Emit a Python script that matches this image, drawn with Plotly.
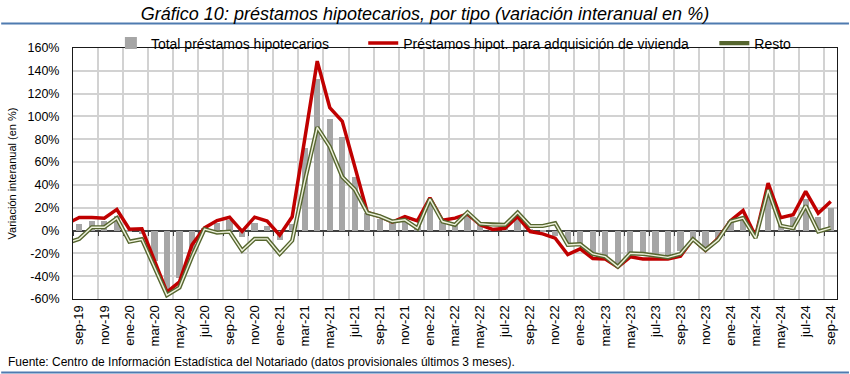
import plotly.graph_objects as go

# month labels (first one, ago-19, only feeds the clipped line segment at the left edge)
months = ["ago-19", "sep-19", "oct-19", "nov-19", "dic-19", "ene-20", "feb-20", "mar-20", "abr-20",
          "may-20", "jun-20", "jul-20", "ago-20", "sep-20", "oct-20", "nov-20", "dic-20", "ene-21",
          "feb-21", "mar-21", "abr-21", "may-21", "jun-21", "jul-21", "ago-21", "sep-21", "oct-21",
          "nov-21", "dic-21", "ene-22", "feb-22", "mar-22", "abr-22", "may-22", "jun-22", "jul-22",
          "ago-22", "sep-22", "oct-22", "nov-22", "dic-22", "ene-23", "feb-23", "mar-23", "abr-23",
          "may-23", "jun-23", "jul-23", "ago-23", "sep-23", "oct-23", "nov-23", "dic-23", "ene-24",
          "feb-24", "mar-24", "abr-24", "may-24", "jun-24", "jul-24", "ago-24", "sep-24"]

total = [None, 6, 8.8, 8, 13, -1.5, -3, -27, -56, -42, -18, 2, 6.5, 9, -5.9, 6.5, 3.8, -8.5, 6,
         72, 133, 98, 82, 47, 15, 10, 7, 9, 4, 27, 8, 7, 13, 5, 2, 3, 13.8, 1.2, -1, -4.7,
         -12, -12.6, -20.5, -22, -29, -20, -21, -21.5, -22, -18, -8, -16, -7.6, 8.5, 10.5, -5,
         36, 5, 12, 28, 11.5, 20]

vivienda = [6, 11.4, 11.4, 10.8, 18.5, 1.2, 1.5, -27, -54, -45, -12.6, 2.3, 8.8, 11.7, -0.8, 11.7,
            8.3, -4.1, 12, 80, 148.5, 107.8, 95.7, 56, 15.8, 12.3, 7.5, 12.3, 8.5, 28.7, 9, 10.9,
            14.5, 5, 1, 2, 12.3, -0.9, -2.9, -6.7, -21, -16, -24.5, -25, -32, -23, -25, -25, -25,
            -22.5, -7.6, -17.3, -7, 8.7, 17.5, -5, 41.6, 11.2, 13.8, 34.3, 15.2, 25.5]

resto = [-11, -7.3, 2.9, 2.9, 10.9, -9.7, -7.6, -32, -56.6, -49.9, -22.9, 1.2, -1.8, -1, -17.6,
         -7.3, -7.3, -20.5, -8.8, 43, 90.5, 73.5, 47, 36, 15.5, 12.5, 7.9, 9.4, 2, 27.6, 7.9, 5,
         16, 5.9, 5, 5, 15.8, 4, 4, 6.4, -12.6, -12, -20.5, -22.9, -31.7, -20, -20.5, -22, -23.5,
         -20.5, -7.6, -17, -8.2, 8, 11, -6.5, 35.5, 4.2, 2, 21.7, -0.9, 2.3]

y_ticks = [-60, -40, -20, 0, 20, 40, 60, 80, 100, 120, 140, 160]

xi = list(range(len(months)))
label_idx = xi[1::2]
label_txt = months[1::2]

FONT = "Liberation Sans, Arial, sans-serif"

fig = go.Figure()
fig.add_trace(go.Bar(x=xi, y=total, name="Total préstamos hipotecarios",
                     marker=dict(color="#a6a6a6", line=dict(width=0)), width=0.5,
                     legend="legend"))
fig.add_trace(go.Scatter(x=xi, y=vivienda, mode="lines",
                         name="Préstamos hipot. para adquisición de vivienda",
                         line=dict(color="#c00000", width=3.5), legend="legend2"))
fig.add_trace(go.Scatter(x=xi, y=resto, mode="lines", name="Resto",
                         line=dict(color="#56662f", width=4.2), legend="legend3",
                         legendgroup="resto"))
fig.add_trace(go.Scatter(x=xi, y=resto, mode="lines", name="Resto",
                         line=dict(color="#eef2dc", width=1.4), showlegend=False,
                         legendgroup="resto", hoverinfo="skip"))
# helper trace so the zero-line axis (ticks + vertical grid) is drawn
fig.add_trace(go.Scatter(x=xi, y=[0] * len(xi), mode="lines", xaxis="x2",
                         line=dict(width=0, color="rgba(0,0,0,0)"), showlegend=False,
                         hoverinfo="skip"))

leg_common = dict(orientation="h", yanchor="middle", y=1.018, xanchor="left",
                  bgcolor="rgba(0,0,0,0)", font=dict(family=FONT, size=14, color="#000"),
                  borderwidth=0, itemwidth=30)

fig.update_layout(
    width=850, height=374,
    margin=dict(l=72, r=12, t=48, b=75),
    paper_bgcolor="white", plot_bgcolor="white",
    bargap=0,
    showlegend=True,
    legend=dict(leg_common, x=(110 - 72) / 766),
    legend2=dict(leg_common, x=(363 - 72) / 766),
    legend3=dict(leg_common, x=(715 - 72) / 766),
    xaxis=dict(range=[0.5, 61.5], tickmode="array", tickvals=label_idx, ticktext=label_txt,
               tickangle=-90, showgrid=False, zeroline=False, ticks="",
               showline=True, linecolor="#1a1a1a", linewidth=1, mirror=True,
               tickfont=dict(family=FONT, size=13, color="#000")),
    xaxis2=dict(range=[0.5, 61.5], overlaying="x", anchor="free", position=60 / 220,
                tickmode="linear", tick0=0.5, dtick=2, showticklabels=False,
                ticks="outside", ticklen=5, tickwidth=1.2, tickcolor="#404040",
                showline=True, linecolor="#404040", linewidth=1.5,
                showgrid=True, gridcolor="#d2d2d2", gridwidth=1.5, zeroline=False,
                layer="below traces"),
    yaxis=dict(range=[-60, 160], tickmode="array", tickvals=y_ticks,
               ticktext=[f"{v}%" for v in y_ticks], showgrid=True, gridcolor="#d2d2d2",
               gridwidth=1.5, zeroline=False, showline=True, linecolor="#1a1a1a",
               linewidth=1, mirror=True, ticks="outside", ticklen=10,
               tickcolor="rgba(0,0,0,0)",
               tickfont=dict(family=FONT, size=12.5, color="#000"),
               title=dict(text="Variación interanual (en %)", standoff=8,
                          font=dict(family=FONT, size=11, color="#000"))),
    title=dict(text="<i>Gráfico 10: préstamos hipotecarios, por tipo (variación interanual en %)</i>",
               x=0.5, xanchor="center", y=1 - 14 / 374, yanchor="middle",
               font=dict(family=FONT, size=18, color="#000")),
    shapes=[
        dict(type="line", xref="paper", yref="paper", x0=-72 / 766, x1=(850 - 72) / 766,
             y0=1 + 24.5 / 251, y1=1 + 24.5 / 251, line=dict(color="#4f7bb0", width=2)),
        dict(type="line", xref="paper", yref="paper", x0=-72 / 766, x1=(850 - 72) / 766,
             y0=-(372.5 - 299) / 251, y1=-(372.5 - 299) / 251,
             line=dict(color="#4f7bb0", width=2)),
    ],
    annotations=[
        dict(text="Fuente: Centro de Información Estadística del Notariado (datos provisionales últimos 3 meses).",
             xref="paper", yref="paper", x=-67 / 766, y=-(362 - 299) / 251,
             xanchor="left", yanchor="middle", showarrow=False,
             font=dict(family=FONT, size=12, color="#000")),
    ],
)

fig.write_html("out.html", config={"displayModeBar": False},
               post_script="document.body.style.margin='0';")
